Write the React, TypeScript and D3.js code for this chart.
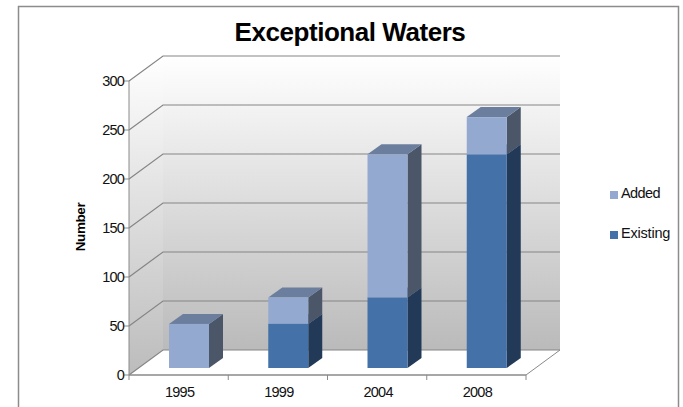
import React from "react";
import * as d3 from "d3";

const years = ["1995", "1999", "2004", "2008"];
const existing = [0, 45, 72, 218];
const added = [45, 27, 146, 38];
const yTicks = [0, 50, 100, 150, 200, 250, 300];

const COLORS = {
  existing: { front: "#4472a8", side: "#223a58", top: "#3d5c85" },
  added: { front: "#94a9d0", side: "#4b5769", top: "#6b7e9e" },
};

const width = 683;
const height = 407;
const depthX = 34;
const depthY = 25;
const barDepthX = 14;
const barDepthY = 10;
const barInsetY = 7;

export default function App() {
  const x = d3.scaleBand<string>().domain(years).range([129, 526]);
  const y = d3.scaleLinear().domain([0, 300]).range([375, 81]);
  const y0 = y(0);
  const xL = x.range()[0];
  const xR = x.range()[1];
  const top = y(300);
  const path = d3.line();

  const drawSegment = (year: string, from: number, to: number, c: typeof COLORS.added) => {
    if (to <= from) return null;
    const bx = (x(year) as number) + 40;
    const bw = 40;
    const yTop = y(to) - barInsetY;
    const yBot = y(from) - barInsetY;
    return (
      <g key={year + from}>
        <path
          d={path([[bx + bw, yTop], [bx + bw + barDepthX, yTop - barDepthY], [bx + bw + barDepthX, yBot - barDepthY], [bx + bw, yBot]]) + "Z"}
          fill={c.side}
        />
        <path
          d={path([[bx, yTop], [bx + barDepthX, yTop - barDepthY], [bx + bw + barDepthX, yTop - barDepthY], [bx + bw, yTop]]) + "Z"}
          fill={c.top}
        />
        <rect x={bx} y={yTop} width={bw} height={yBot - yTop} fill={c.front} />
      </g>
    );
  };

  return (
    <svg width={width} height={height} style={{ position: "absolute", left: 0, top: 0 }} fontFamily="'Liberation Sans', Arial, sans-serif">
      <defs>
        <linearGradient id="wallFill" x1="0" y1="0" x2="0" y2="1">
          <stop offset="0" stopColor="#ffffff" />
          <stop offset="1" stopColor="#bababa" />
        </linearGradient>
        <linearGradient id="sideFill" x1="0" y1="0" x2="0" y2="1">
          <stop offset="0" stopColor="#ffffff" />
          <stop offset="1" stopColor="#bcbcbc" />
        </linearGradient>
      </defs>
      <rect width={width} height={height} fill="#fff" />
      <path d="M18.5,407V6.5H678.5V407" fill="none" stroke="#8c8c8c" strokeWidth={1.5} />

      <text x={350} y={41} textAnchor="middle" fontSize={26} fontWeight={700} letterSpacing={-0.45} fill="#000">
        Exceptional Waters
      </text>

      {/* Side wall and back wall */}
      <path d={path([[xL, y0], [xL, top], [xL + depthX, top - depthY], [xL + depthX, y0 - depthY]]) + "Z"} fill="url(#sideFill)" />
      <rect x={xL + depthX} y={top - depthY} width={xR - xL} height={y0 - top} fill="url(#wallFill)" />

      {/* Gridlines across both walls */}
      {yTicks.map((t) => (
        <g key={t}>
          <path
            d={path([[xL, y(t)], [xL + depthX, y(t) - depthY], [xR + depthX, y(t) - depthY]]) as string}
            fill="none"
            stroke="#858585"
            strokeWidth={1.2}
          />
          <line x1={xL - 5} x2={xL} y1={y(t)} y2={y(t)} stroke="#8a8a8a" />
          <text x={xL - 5} y={y(t) + 5} textAnchor="end" fontSize={14.5} letterSpacing={-0.8} fill="#111">
            {t}
          </text>
        </g>
      ))}

      {/* Floor edges and axes */}
      <line x1={xR} y1={y0} x2={xR + depthX} y2={y0 - depthY} stroke="#8a8a8a" />
      <line x1={xL} x2={xL} y1={top} y2={y0} stroke="#8a8a8a" />
      <line x1={xL} x2={xR} y1={y0} y2={y0} stroke="#8a8a8a" strokeWidth={1.3} />
      {years.map((yr) => (
        <line key={yr} x1={x(yr)} x2={x(yr)} y1={y0} y2={y0 + 5} stroke="#8a8a8a" />
      ))}
      <line x1={xR} x2={xR} y1={y0} y2={y0 + 5} stroke="#8a8a8a" />

      {/* Stacked bars */}
      {years.map((yr, i) => (
        <g key={yr}>
          {drawSegment(yr, 0, existing[i], COLORS.existing)}
          {drawSegment(yr, existing[i], existing[i] + added[i], COLORS.added)}
        </g>
      ))}

      {years.map((yr) => (
        <text key={yr} x={(x(yr) as number) + x.bandwidth() / 2 + 1} y={397} textAnchor="middle" fontSize={14.5} letterSpacing={-0.7} fill="#111">
          {yr}
        </text>
      ))}

      <text transform="translate(85,227) rotate(-90)" textAnchor="middle" fontSize={13.5} fontWeight={700} letterSpacing={-0.4} fill="#000">
        Number
      </text>

      {/* Legend */}
      <rect x={610} y={191} width={8} height={8} fill={COLORS.added.front} />
      <text x={621} y={198} fontSize={14.5} letterSpacing={-0.6} fill="#111">Added</text>
      <rect x={610} y={231} width={8} height={8} fill={COLORS.existing.front} />
      <text x={621} y={238} fontSize={14.5} letterSpacing={-0.2} fill="#111">Existing</text>
    </svg>
  );
}
